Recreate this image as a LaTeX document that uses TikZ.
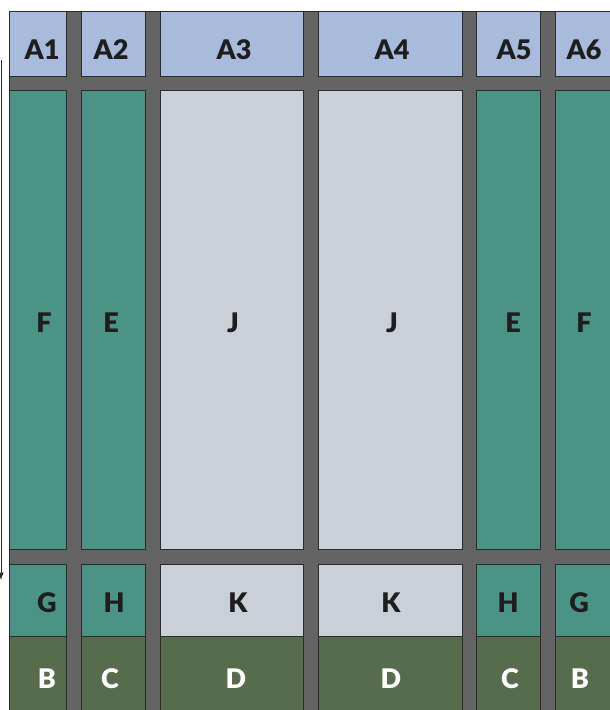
\documentclass[tikz,border=0pt]{standalone}
\usepackage{fontspec}
\setmainfont{Lato}[BoldFont={Lato Black}]
\usetikzlibrary{arrows.meta}
\definecolor{ink}{HTML}{1E1E1E}
\definecolor{rail}{HTML}{646464}
\definecolor{edge}{HTML}{2B2B2B}
\definecolor{sky}{HTML}{A9BBDC}
\definecolor{sea}{HTML}{4A9386}
\definecolor{mist}{HTML}{C9D0DA}
\definecolor{moss}{HTML}{576B4D}

\begin{document}
\begin{tikzpicture}[x=1pt,y=-1pt,>=Latex,line join=miter,
    font=\bfseries\fontsize{27}{27}\selectfont,text=ink,
    cell/.style={draw=edge,line width=0.7pt},
    tag/.style={anchor=base,inner sep=0pt}]
  \useasboundingbox (0,0) rectangle (610,710);
  \clip (0,0) rectangle (610,710);

  % Grey rails behind every cell.
  \filldraw[fill=rail,draw=edge,line width=0.8pt] (9,11) rectangle (630,730);

  \foreach \xa/\xb/\shade in {9/66/sea,81/145/sea,160/303/mist,
                               318/462/mist,476/540/sea,555/630/sea}{
    \filldraw[cell,fill=sky] (\xa,11) rectangle (\xb,76);
    \filldraw[cell,fill=\shade] (\xa,90) rectangle (\xb,549);
    \filldraw[cell,fill=\shade] (\xa,564) rectangle (\xb,636);
    \filldraw[cell,fill=moss] (\xa,636) rectangle (\xb,730);
  }

  % Top row
  \node[tag] (a1) at (42,59) {A1};
  \node[tag] (a2) at (111,59) {A2};
  \node[tag] (a3) at (234,59) {A3};
  \node[tag] (a4) at (392,59) {A4};
  \node[tag] (a5) at (514,59) {A5};
  \node[tag] (a6) at (584,59) {A6};

  % Tall cells
  \node[tag] (f1) at (44,332) {F};
  \node[tag] (e1) at (111,332) {E};
  \node[tag] (j1) at (233,332) {J};
  \node[tag] (j2) at (392,332) {J};
  \node[tag] (e2) at (513,332) {E};
  \node[tag] (f2) at (584,332) {F};

  \node[tag] (g1) at (47,612) {G};
  \node[tag] (h1) at (114,612) {H};
  \node[tag] (k1) at (238,612) {K};
  \node[tag] (k2) at (391,612) {K};
  \node[tag] (h2) at (508,612) {H};
  \node[tag] (g2) at (579,612) {G};

  \node[tag,text=white] (b1) at (47,688) {B};
  \node[tag,text=white] (c1) at (110,688) {C};
  \node[tag,text=white] (d1) at (236,688) {D};
  \node[tag,text=white] (d2) at (391,688) {D};
  \node[tag,text=white] (c2) at (510,688) {C};
  \node[tag,text=white] (b2) at (580,688) {B};

  % Stray arrow cut off at the left edge.
  \coordinate (tail) at (1,60);
  \coordinate (tip) at (1,580);
  \draw[edge,line width=1pt,->] (tail) -- (tip);
\end{tikzpicture}
\end{document}
